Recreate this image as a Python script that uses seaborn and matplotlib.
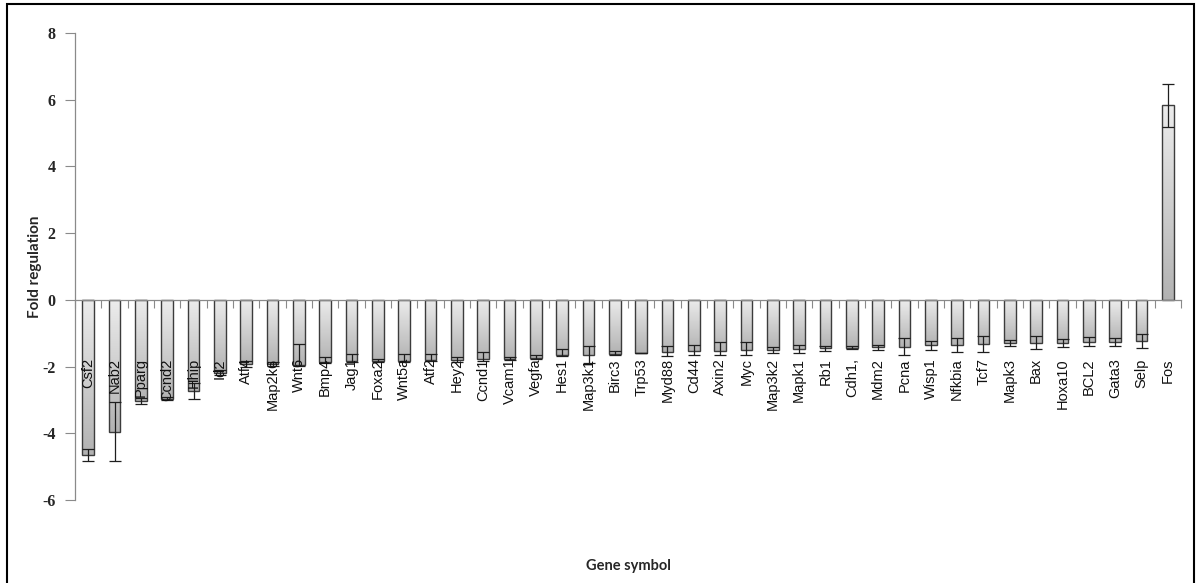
import numpy as np
import pandas as pd
import matplotlib
matplotlib.use("Agg")
import matplotlib.pyplot as plt
import seaborn as sns
from matplotlib.patches import Rectangle
from matplotlib.colors import LinearSegmentedColormap

# Gene symbols in plotted order
genes = ["Csf2", "Nab2", "Pparg", "Ccnd2", "Hhip", "Id2", "Atf4", "Map2k6", "Wnt6",
         "Bmp4", "Jag1", "Foxa2", "Wnt5a", "Atf2", "Hey2", "Ccnd1", "Vcam1", "Vegfa",
         "Hes1", "Map3k1", "Birc3", "Trp53", "Myd88", "Cd44", "Axin2", "Myc", "Map3k2",
         "Mapk1", "Rb1", "Cdh1,", "Mdm2", "Pcna", "Wisp1", "Nfkbia", "Tcf7", "Mapk3",
         "Bax", "Hoxa10", "BCL2", "Gata3", "Selp", "Fos"]

# Fold regulation per gene
fold = [-4.65, -3.95, -3.03, -2.96, -2.73, -2.18, -1.93, -1.93, -1.96,
        -1.86, -1.84, -1.82, -1.83, -1.80, -1.79, -1.77, -1.76, -1.74,
        -1.65, -1.64, -1.62, -1.60, -1.56, -1.54, -1.53, -1.51, -1.50,
        -1.47, -1.45, -1.43, -1.42, -1.40, -1.36, -1.35, -1.32, -1.29,
        -1.28, -1.28, -1.25, -1.25, -1.22, 5.83]

# Error bar extents below and above each value
err_low = [0.18, 0.88, 0.09, 0.05, 0.25, 0.08, 0.09, 0.06, 0.03,
           0.03, 0.03, 0.05, 0.04, 0.03, 0.07, 0.06, 0.05, 0.03,
           0.02, 0.25, 0.02, 0.00, 0.11, 0.12, 0.12, 0.13, 0.10,
           0.11, 0.07, 0.04, 0.08, 0.26, 0.14, 0.20, 0.24, 0.10,
           0.20, 0.12, 0.13, 0.12, 0.21, 0.64]
err_high = [0.18, 0.88, 0.09, 0.05, 0.25, 0.08, 0.09, 0.06, 0.64,
            0.16, 0.21, 0.05, 0.20, 0.18, 0.09, 0.20, 0.05, 0.10,
            0.17, 0.27, 0.10, 0.00, 0.17, 0.18, 0.26, 0.26, 0.10,
            0.11, 0.07, 0.04, 0.08, 0.26, 0.14, 0.20, 0.24, 0.10,
            0.20, 0.12, 0.13, 0.12, 0.21, 0.64]

y_ticks = [-6, -4, -2, 0, 2, 4, 6, 8]

sns.set_theme(style="white")
plt.rcParams["font.family"] = ["Liberation Sans", "DejaVu Sans"]

W, H = 1197, 583
fig = plt.figure(figsize=(W / 100, H / 100), dpi=100)
ax = fig.add_axes([75 / W, 83 / H, 1106 / W, 467 / H])

df = pd.DataFrame({"gene": genes, "fold": fold})
sns.barplot(data=df, x="gene", y="fold", order=genes, width=0.44,
            color="#c8c8c8", edgecolor="#3c3c3c", linewidth=1.0,
            errorbar=None, ax=ax, zorder=2)

# vertical grey gradient inside every bar
shade = LinearSegmentedColormap.from_list("shade", ["#ececec", "#b2b2b2"])
grad = np.linspace(0, 1, 256).reshape(-1, 1)
centers = []
for bar in ax.patches:
    x0, w = bar.get_x(), bar.get_width()
    y0, h = bar.get_y(), bar.get_height()
    lo, hi = min(y0, y0 + h), max(y0, y0 + h)
    ax.imshow(grad, cmap=shade, extent=(x0, x0 + w, lo, hi), origin="upper",
              aspect="auto", interpolation="bilinear", zorder=1.9)
    bar.set_facecolor("none")
    centers.append(x0 + w / 2)

ax.errorbar(centers, fold, yerr=[err_low, err_high], fmt="none",
            ecolor="#1e1e1e", elinewidth=0.9, capsize=4.3, capthick=0.9, zorder=3)

# gene names written vertically below the zero line
for xc, name in zip(centers, genes):
    ax.text(xc, -1.75, name, rotation=90, ha="center", va="top",
            fontsize=10.5, color="#111111", zorder=4)

ax.set_xlim(-0.5, len(genes) - 0.5)
ax.set_ylim(-6, 8)
ax.set_yticks(y_ticks)
ax.set_yticklabels([str(t) for t in y_ticks], fontfamily="Liberation Serif",
                   fontweight="bold", fontsize=11.5)
ax.set_xticks([])
ax.set_xticks(np.arange(-0.5, len(genes)), minor=True)
ax.tick_params(axis="x", which="minor", bottom=True, direction="out",
               length=6, color="#8a8a8a", width=0.8)
ax.tick_params(axis="y", left=True, direction="out", length=7,
               color="#8a8a8a", width=0.8, pad=7)
for s in ["top", "right"]:
    ax.spines[s].set_visible(False)
ax.spines["bottom"].set_position(("data", 0))
for s in ["bottom", "left"]:
    ax.spines[s].set_color("#8a8a8a")
    ax.spines[s].set_linewidth(0.9)
ax.set_xlabel("")
ax.set_ylabel("")

fig.text(35 / W, 1 - 267 / H, "Fold regulation", rotation=90, ha="center",
         va="center", fontsize=11, fontweight="bold", family=["Lato", "DejaVu Sans"])
fig.text(628 / W, 1 - 566 / H, "Gene symbol", ha="center", va="center",
         fontsize=10.5, fontweight="bold", family=["Lato", "DejaVu Sans"])

# outer frame around the chart
fig.patches.append(Rectangle((7 / W, -0.02), (1194 - 7) / W, 0.02 + 579 / H,
                             transform=fig.transFigure, fill=False,
                             edgecolor="black", linewidth=1.5))

fig.savefig("out.png", dpi=100)
